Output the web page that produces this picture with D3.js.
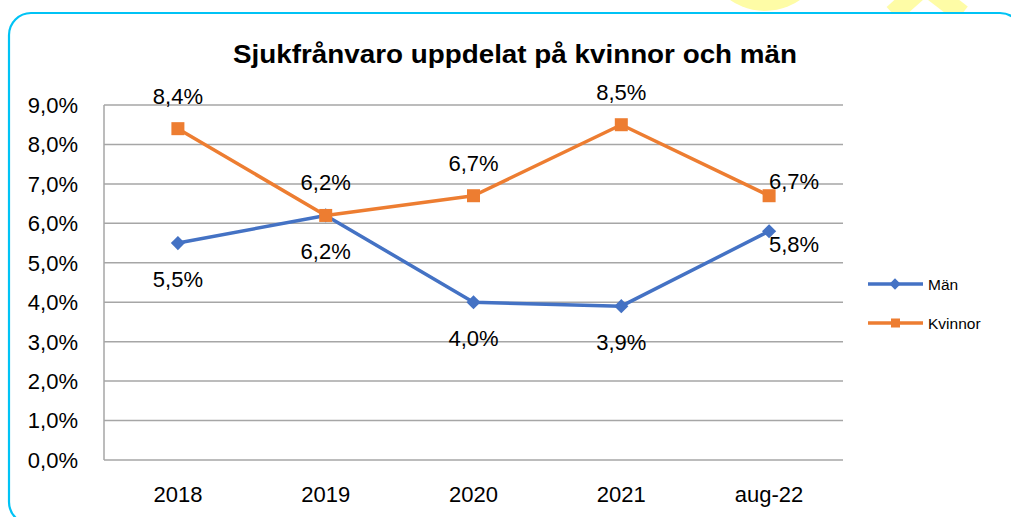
<!DOCTYPE html>
<html><head><meta charset="utf-8">
<script src="https://cdn.jsdelivr.net/npm/d3@7"></script>
<style>body{margin:0;background:#fff}svg{display:block}text{font-family:"Liberation Sans",Arial,sans-serif}</style>
</head><body>
<script>
const categories = ["2018","2019","2020","2021","aug-22"];
const man = [5.5, 6.2, 4.0, 3.9, 5.8];
const kvinnor = [8.4, 6.2, 6.7, 8.5, 6.7];
const yTicks = [0,1,2,3,4,5,6,7,8,9];
const seriesNames = ["Män","Kvinnor"];
const title = "Sjukfrånvaro uppdelat på kvinnor och män";

(function(){
const W = 1011, H = 517;
const svg = d3.select("body").append("svg").attr("width", W).attr("height", H);

// decorative yellow shapes at top
svg.append("circle").attr("cx",765).attr("cy",-50).attr("r",61).attr("fill","#FEFCA6");
svg.append("line").attr("x1",922).attr("y1",-12).attr("x2",893).attr("y2",14).attr("stroke","#FEFCA6").attr("stroke-width",19);
svg.append("line").attr("x1",928).attr("y1",-12).attr("x2",962).attr("y2",14).attr("stroke","#FEFCA6").attr("stroke-width",19);

// border
svg.append("rect").attr("x",9).attr("y",13).attr("width",1013).attr("height",511).attr("rx",22)
  .attr("fill","#fff").attr("stroke","#00C3F5").attr("stroke-width",2.2);

const pLeft = 104, pRight = 843, pTop = 105, pBottom = 460;
const x = d3.scaleBand().domain(categories).range([pLeft, pRight]);
const y = d3.scaleLinear().domain([0, 9]).range([pBottom, pTop]);
const cx = c => x(c) + x.bandwidth()/2;

// title
svg.append("text").attr("x", 515).attr("y", 63).attr("text-anchor","middle")
  .attr("font-size", 25).attr("font-weight","bold").attr("fill","#000")
  .attr("textLength", 564).attr("lengthAdjust","spacingAndGlyphs").text(title);

// gridlines
svg.append("g").selectAll("line").data(yTicks).join("line")
  .attr("x1", pLeft).attr("x2", pRight).attr("y1", d=>y(d)).attr("y2", d=>y(d))
  .attr("stroke","#A6A6A6").attr("stroke-width",1.5);
svg.append("line").attr("x1",pLeft).attr("x2",pLeft).attr("y1",pTop).attr("y2",pBottom)
  .attr("stroke","#A6A6A6").attr("stroke-width",1.5);

// y axis labels
const fmt = v => v.toFixed(1).replace(".", ",") + "%";
svg.append("g").selectAll("text").data(yTicks).join("text")
  .attr("x", 78).attr("y", d=>y(d)).attr("dy","0.36em").attr("text-anchor","end")
  .attr("font-size",22).attr("fill","#000").text(d=>fmt(d));

// x axis labels
svg.append("g").selectAll("text").data(categories).join("text")
  .attr("x", d=>cx(d)).attr("y", 502).attr("text-anchor","middle")
  .attr("font-size",22).attr("fill","#000").text(d=>d);

const line = d3.line().x((d,i)=>cx(categories[i])).y(d=>y(d));
const blue = "#4472C4", orange = "#ED7D31";

// Män
svg.append("path").datum(man).attr("d", line).attr("fill","none").attr("stroke",blue).attr("stroke-width",3.5).attr("stroke-linejoin","round");
svg.append("g").selectAll("path").data(man).join("path")
  .attr("d", d3.symbol(d3.symbolSquare, 100)())
  .attr("transform",(d,i)=>`translate(${cx(categories[i])},${y(d)}) rotate(45)`)
  .attr("fill",blue);

// Kvinnor
svg.append("path").datum(kvinnor).attr("d", line).attr("fill","none").attr("stroke",orange).attr("stroke-width",3.5).attr("stroke-linejoin","round");
svg.append("g").selectAll("rect").data(kvinnor).join("rect")
  .attr("x",(d,i)=>cx(categories[i])-6.5).attr("y",d=>y(d)-6.5).attr("width",13).attr("height",13)
  .attr("fill",orange);

// data labels
function labels(data, above){
  svg.append("g").selectAll("text").data(data).join("text")
    .attr("x",(d,i)=> i===data.length-1 ? cx(categories[i])+25 : cx(categories[i]))
    .attr("y",(d,i)=> i===data.length-1 ? y(d) + (above ? -15 : 13) : y(d) + (above ? -33 : 36))
    .attr("dy","0.36em").attr("text-anchor","middle")
    .attr("font-size",22).attr("fill","#000").text(d=>fmt(d));
}
labels(man, false);
labels(kvinnor, true);

// legend
const leg = svg.append("g");
const legY = [284, 323];
const cols = [blue, orange];
seriesNames.forEach((n,i)=>{
  leg.append("line").attr("x1",868).attr("x2",923).attr("y1",legY[i]).attr("y2",legY[i])
    .attr("stroke",cols[i]).attr("stroke-width",3.5);
  if(i===0){
    leg.append("rect").attr("x",891).attr("y",legY[i]-4).attr("width",8).attr("height",8)
      .attr("transform",`rotate(45,895,${legY[i]})`).attr("fill",blue);
  } else {
    leg.append("rect").attr("x",891).attr("y",legY[i]-4.5).attr("width",9).attr("height",9).attr("fill",orange);
  }
  leg.append("text").attr("x",928).attr("y",legY[i]).attr("dy","0.36em")
    .attr("font-size",15.5).attr("fill","#000").text(n);
});
})();
</script>
</body></html>
